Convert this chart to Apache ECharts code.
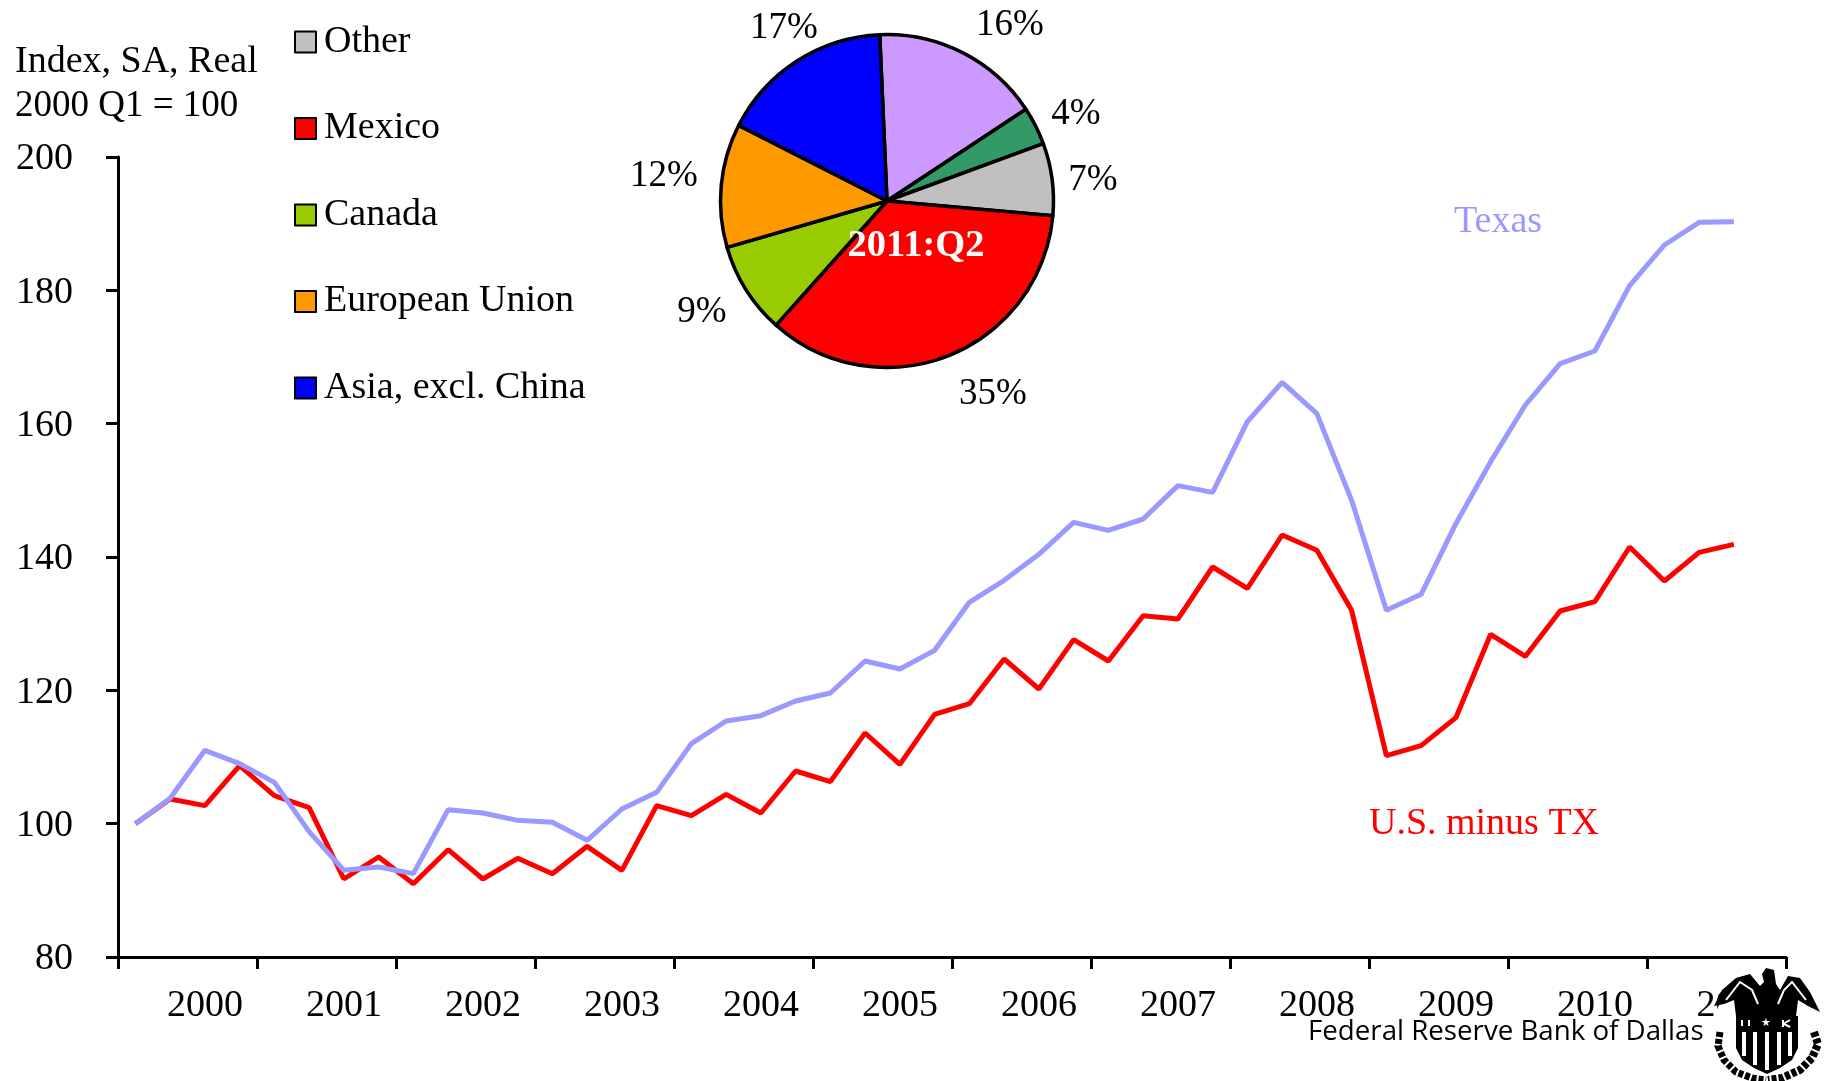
<!DOCTYPE html>
<html><head><meta charset="utf-8">
<style>html,body{margin:0;padding:0;background:#fff}#c{width:1835px;height:1081px}</style>
<script src="https://cdn.jsdelivr.net/npm/echarts@6/dist/echarts.min.js"></script>
</head><body><div id="c"></div>
<script>
const years = [2000,2001,2002,2003,2004,2005,2006,2007,2008,2009,2010,2011];
const quarters = ['Q1','Q2','Q3','Q4'];
const texas = [100,103.8,111,109,106.2,98.8,93,93.5,92.5,102.1,101.6,100.5,100.2,97.5,102.2,104.7,112,115.4,116.2,118.4,119.6,124.4,123.2,126,133.2,136.5,140.4,145.2,144,145.7,150.7,149.7,160.3,166.2,161.5,148.5,132,134.4,145,154.3,162.8,169,170.9,180.7,186.8,190.2,190.3,null];
const usMinusTx = [100,103.7,102.7,108.7,104.2,102.4,91.7,95,91,96.1,91.7,94.8,92.5,96.6,93,102.7,101.2,104.4,101.6,107.9,106.3,113.6,108.9,116.4,118,124.7,120.2,127.6,124.4,131.2,130.7,138.5,135.3,143.3,141,132,110.2,111.7,115.9,128.4,125.1,131.9,133.3,141.5,136.4,140.7,141.9,null];
const pieNames = ['China','Middle East','Other','Mexico','Canada','European Union','Asia, excl. China'];
const pieValues = [16.4,3.7,7,35.2,8.9,12,16.8];
const pieColors = ['#CC99FF','#339966','#C0C0C0','#FF0000','#99CC00','#FF9900','#0000FF'];
const legendNames = ['Other','Mexico','Canada','European Union','Asia, excl. China'];
const categories = years.flatMap(y => quarters.map(q => y + ' ' + q));

const serif = '"Liberation Serif"';
const FS = 38;
const labelAt = [[1010,25],[1076,114],[1093,180],[993,394],[702,312],[664,176],[784,28]];
const txt = (x,y,t,extra) => ({type:'text',x,y,z:20,style:Object.assign({text:t,font:FS+'px '+serif,fill:'#000',textAlign:'left',textVerticalAlign:'middle'},extra||{})});

const SZ = 31;
const poly = (points,fill) => ({type:'polygon',z:SZ,shape:{points},style:{fill}});
const wline = (points,w) => ({type:'polyline',z:SZ+1,shape:{points},style:{fill:'none',stroke:'#fff',lineWidth:w}});
const bline = (points,w,dash) => ({type:'polyline',z:SZ,shape:{points},style:{fill:'none',stroke:'#000',lineWidth:w,lineDash:dash}});
const seal = {type:'group',x:1712,y:966,children:[
  poly([[2,40],[10,24],[24,12],[38,8],[48,20],[52,16],[50,8],[54,2],[62,4],[64,18],[68,24],[76,10],[88,12],[98,26],[108,46],[96,40],[86,34],[84,50],[24,50],[22,34],[12,38]],'#000'),
  wline([[14,34],[28,16],[40,24],[46,38]],2), wline([[94,34],[80,16],[72,24],[66,38]],2),
  poly([[24,50],[86,50],[86,82],[80,94],[68,102],[55,108],[42,102],[30,94],[24,82]],'#000'),
  wline([[32,66],[32,90]],4), wline([[43,66],[43,99]],4), wline([[55,66],[55,104]],4), wline([[67,66],[67,99]],4), wline([[78,66],[78,90]],4),
  wline([[30,54],[30,60]],2), wline([[37,54],[37,60]],2), wline([[71,54],[71,61]],2), wline([[71,58],[78,54]],2), wline([[72,58],[78,61]],2),
  {type:'text',z:SZ+1,x:54,y:57,style:{text:'★',font:'11px "DejaVu Sans"',fill:'#fff',textAlign:'center',textVerticalAlign:'middle'}},
  bline([[8,66],[6,80],[12,94],[24,106],[40,112],[54,114]],7,[5,2]),
  bline([[102,66],[106,78],[100,92],[88,104],[70,112],[56,114]],8,[5,2])
]};
const sealWhite = {type:'polygon',z:29,shape:{points:[[1730,980],[1815,980],[1825,1040],[1770,1078],[1722,1040],[1716,1012]]},style:{fill:'#fff'}};

const chart = echarts.init(document.getElementById('c'));
chart.setOption({
  animation:false,
  backgroundColor:'#fff',
  textStyle:{fontFamily:serif},
  grid:{left:118,top:157,width:1668,height:800,containLabel:false},
  xAxis:{type:'category',data:categories,boundaryGap:true,
    axisLine:{lineStyle:{color:'#000',width:3}},
    axisTick:{show:true,length:12,interval:3,lineStyle:{color:'#000',width:3}},
    axisLabel:{interval:(i)=>i%4===2,formatter:(v)=>v.slice(0,4),fontSize:FS,color:'#000',margin:30,hideOverlap:false,fontFamily:serif}},
  yAxis:{type:'value',min:80,max:200,interval:20,splitLine:{show:false},
    axisLine:{show:true,lineStyle:{color:'#000',width:3}},
    axisTick:{show:true,length:12,lineStyle:{color:'#000',width:3}},
    axisLabel:{fontSize:FS,color:'#000',margin:45,verticalAlign:'top',lineHeight:5,fontFamily:serif}},
  legend:{show:true,orient:'vertical',left:289,top:18,data:legendNames,itemWidth:21,itemHeight:21,itemGap:48.5,icon:'rect',selectedMode:false,
    textStyle:{fontSize:FS,color:'#000',fontFamily:serif,padding:[0,0,0,3]}},
  series:[
    {name:'U.S. minus TX',type:'line',data:usMinusTx,symbol:'none',lineStyle:{color:'#FF0000',width:5},z:3},
    {name:'Texas',type:'line',data:texas,symbol:'none',lineStyle:{color:'#9999FF',width:5},z:4},
    {type:'pie',center:[887,201],radius:[0,166.5],startAngle:92.5,clockwise:true,avoidLabelOverlap:false,z:5,
      data:pieNames.map((n,i)=>({name:n,value:pieValues[i],itemStyle:{color:pieColors[i]}})),
      itemStyle:{borderColor:'#000',borderWidth:3.5},
      label:{show:true,position:'outside',formatter:(p)=>Math.round(p.value)+'%',fontSize:37,color:'#000',fontFamily:serif},
      labelLine:{show:false},
      labelLayout:(p)=>({x:labelAt[p.dataIndex][0],y:labelAt[p.dataIndex][1],align:'center',verticalAlign:'middle'}),
      emphasis:{disabled:true}}
  ],
  graphic:[
    txt(15,62.5,'Index, SA, Real'),
    txt(15,106.5,'2000 Q1 = 100',{font:'37px '+serif}),
    txt(1498,222.5,'Texas',{fill:'#9999FF',textAlign:'center'}),
    txt(1484,824.5,'U.S. minus TX',{fill:'#FF0000',textAlign:'center'}),
    txt(916,246,'2011:Q2',{fill:'#fff',textAlign:'center',font:'bold 38.5px '+serif}),
    {type:'text',x:1308,y:1032,z:25,style:{text:'Federal Reserve Bank of Dallas',font:'27.7px "Open Sans"',fill:'#000',textVerticalAlign:'middle'}},
    sealWhite, seal
  ]
});
</script></body></html>
